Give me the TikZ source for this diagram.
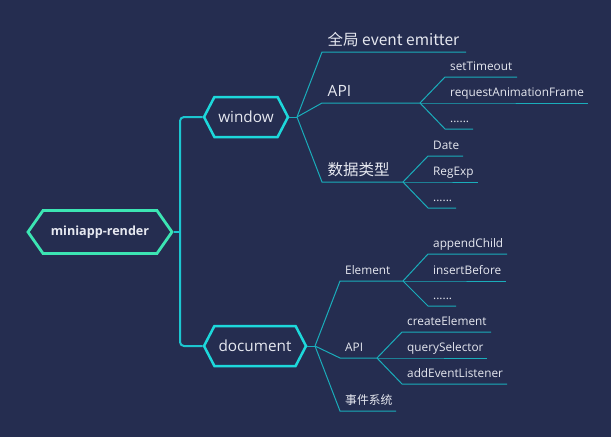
\documentclass[tikz,border=0pt]{standalone}
\usepackage{fontspec}
\setmainfont{Open Sans}
\newfontfamily\cjk{Noto Sans CJK SC}
\usetikzlibrary{shapes.symbols}
\definecolor{bg}{HTML}{252D50}
\definecolor{rootc}{HTML}{3CE5B3}
\definecolor{hexc}{HTML}{1DD8DB}
\definecolor{trunk}{HTML}{1CC6D0}
\definecolor{thin}{HTML}{1AADBB}
\definecolor{txt}{HTML}{E6E8F0}
\tikzset{
  hexbase/.style={shape=signal, signal to=west and east, inner sep=0pt, text=txt},
  roothex/.style={hexbase, draw=rootc, line width=2.8pt, signal pointer angle=110,
     minimum width=144pt, minimum height=43pt, font=\fontsize{12.6}{15}\selectfont\bfseries},
  childhex/.style={hexbase, draw=hexc, line width=2.5pt, signal pointer angle=125,
     minimum height=40pt, font=\fontsize{15.3}{18}\selectfont},
  biglbl/.style={anchor=south west, inner xsep=5.5pt, inner ysep=6.5pt, text depth=0pt,
     text=txt, font=\fontsize{15.5}{18}\selectfont},
  smalllbl/.style={anchor=south west, inner xsep=5pt, inner ysep=6pt, text depth=0pt,
     text=txt, font=\fontsize{11.8}{14}\selectfont},
  trunkline/.style={draw=trunk, line width=2pt},
  thinline/.style={draw=thin, line width=1pt},
}
\begin{document}
\begin{tikzpicture}[x=1pt,y=-1pt]
\fill[bg] (0,0) rectangle (611,437);
\useasboundingbox (0,0) rectangle (611,437);

% hexagons
\node[roothex] (root) at (100,232) {miniapp-render};
\node[childhex, minimum width=84pt] (window) at (246,117) {window};
\node[childhex, minimum width=102pt] (document) at (255,346) {document};

% trunk
\coordinate (tr) at (180,232);
\draw[trunkline] (root.east) -- (tr);
\draw[trunkline, rounded corners=4pt] (window.west) -| (tr) |- (document.west);

% window branch
\coordinate (jw) at (297,117);
\node[biglbl] (ee) at (322,52) {\cjk{全局} event emitter};
\node[biglbl] (wapi) at (322,103) {API};
\node[biglbl] (ds) at (322,182) {\cjk{数据类型}};
\coordinate (jwapi) at (420,103);
\coordinate (jds) at (403,182);
\draw[thinline] (window.east) -- (jw);
\draw[thinline] (jw) -- (ee.south west) -- ++(144,0);
\draw[thinline] (jw) -- (wapi.south west) -- (jwapi);
\draw[thinline] (jw) -- (ds.south west) -- (jds);

\node[smalllbl] (st) at (445,77) {setTimeout};
\node[smalllbl] (raf) at (445,103) {requestAnimationFrame};
\node[smalllbl] (d1) at (445,129) {......};
\draw[thinline] (jwapi) -- (st.south west) -- ++(72,0);
\draw[thinline] (jwapi) -- (raf.south west) -- ++(143,0);
\draw[thinline] (jwapi) -- (d1.south west) -- ++(28,0);

\node[smalllbl] (date) at (428,156) {Date};
\node[smalllbl] (re) at (428,182) {RegExp};
\node[smalllbl] (d2) at (428,208) {......};
\draw[thinline] (jds) -- (date.south west) -- ++(35,0);
\draw[thinline] (jds) -- (re.south west) -- ++(50,0);
\draw[thinline] (jds) -- (d2.south west) -- ++(28,0);

% document branch
\coordinate (jd) at (315,346);
\node[smalllbl] (el) at (340,281) {Element};
\node[smalllbl] (dapi) at (340,358) {API};
\node[smalllbl] (ev) at (340,411) {\cjk{事件系统}};
\coordinate (jel) at (403,281);
\coordinate (jdapi) at (377,358);
\draw[thinline] (document.east) -- (jd);
\draw[thinline] (jd) -- (el.south west) -- (jel);
\draw[thinline] (jd) -- (dapi.south west) -- (jdapi);
\draw[thinline] (jd) -- (ev.south west) -- ++(56,0);

\node[smalllbl] (ac) at (428,254) {appendChild};
\node[smalllbl] (ib) at (428,281) {insertBefore};
\node[smalllbl] (d3) at (428,306) {......};
\draw[thinline] (jel) -- (ac.south west) -- ++(79,0);
\draw[thinline] (jel) -- (ib.south west) -- ++(78,0);
\draw[thinline] (jel) -- (d3.south west) -- ++(28,0);

\node[smalllbl] (ce) at (402,332) {createElement};
\node[smalllbl] (qs) at (402,358) {querySelector};
\node[smalllbl] (ael) at (402,384) {addEventListener};
\draw[thinline] (jdapi) -- (ce.south west) -- ++(89,0);
\draw[thinline] (jdapi) -- (qs.south west) -- ++(85,0);
\draw[thinline] (jdapi) -- (ael.south west) -- ++(105,0);
\end{tikzpicture}
\end{document}
